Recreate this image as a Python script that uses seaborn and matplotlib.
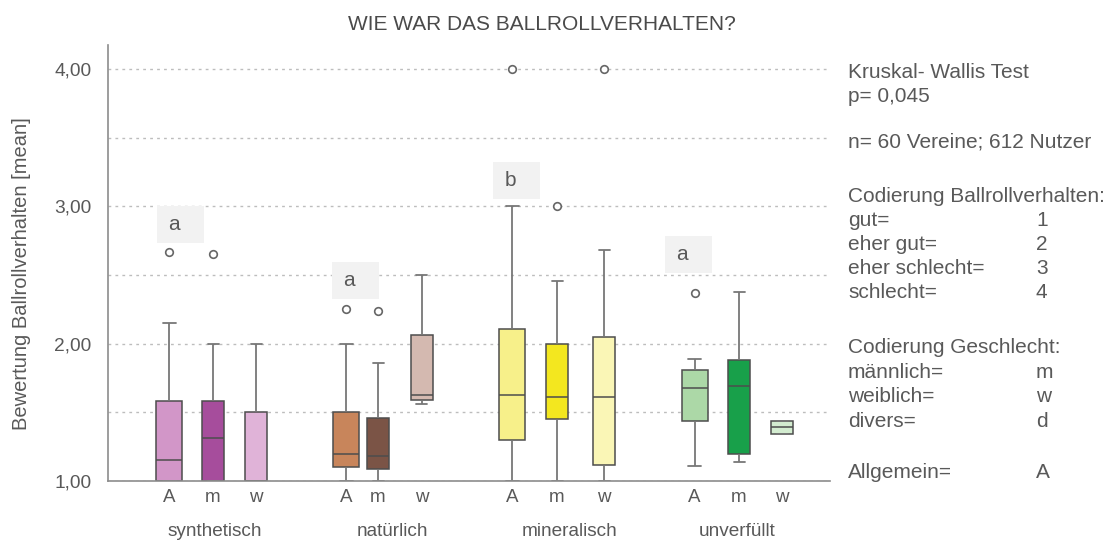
import numpy as np
import pandas as pd
import matplotlib.pyplot as plt
import matplotlib.patches as patches
from matplotlib.ticker import MultipleLocator, FixedLocator, FuncFormatter
import seaborn as sns

gruppen = ['synthetisch', 'natürlich', 'mineralisch', 'unverfüllt']
kennung = ['A', 'm', 'w']

# Kennwerte je Box (Reihenfolge: synthetisch A/m/w, natürlich A/m/w, ...)
unten = [1.00, 1.00, 1.00, 1.00, 1.00, 1.56, 1.00, 1.00, 1.00, 1.11, 1.14, 1.34]
q1 = [1.00, 1.00, 1.00, 1.10, 1.09, 1.59, 1.30, 1.45, 1.12, 1.44, 1.20, 1.34]
median = [1.15, 1.31, 1.00, 1.20, 1.18, 1.63, 1.63, 1.61, 1.61, 1.68, 1.69, 1.39]
q3 = [1.58, 1.58, 1.50, 1.50, 1.46, 2.06, 2.11, 2.00, 2.05, 1.81, 1.88, 1.44]
oben = [2.15, 2.00, 2.00, 2.00, 1.86, 2.50, 3.00, 2.46, 2.68, 1.89, 2.38, 1.44]

ausreisser_box = [0, 1, 3, 4, 6, 7, 8, 9]
ausreisser_wert = [2.67, 2.65, 2.25, 2.24, 4.00, 3.00, 4.00, 2.37]

buchstaben = ['a', 'a', 'b', 'a']
buchstaben_y = [2.87, 2.46, 3.19, 2.65]

farben = ['#d296c8', '#a64d9c', '#e0b3d8',
          '#c8855b', '#7b5446', '#d4b9b0',
          '#f7f08a', '#f3e71f', '#faf6b6',
          '#acd8a7', '#18a04a', '#d3ecd0']

# Layout: x-Positionen (1 Einheit = 1 Pixel)
box_x = [169, 213, 256, 346, 378, 421.5, 512, 557, 604, 694.5, 739, 782]
gruppe_x = [215, 392, 570, 737]
buchstabe_x = [180, 355, 516, 688]

info_links = ['Kruskal- Wallis Test', 'p= 0,045', 'n= 60 Vereine; 612 Nutzer',
              'Codierung Ballrollverhalten:', 'gut=', 'eher gut=', 'eher schlecht=', 'schlecht=',
              'Codierung Geschlecht:', 'männlich=', 'weiblich=', 'divers=', 'Allgemein=']
info_rechts = ['', '', '', '', '1', '2', '3', '4', '', 'm', 'w', 'd', 'A']
info_y = [77.7, 101.7, 147.3, 201.7, 225.7, 249.5, 273.7, 297.7, 352.7, 377.5, 402.3, 427, 478]

ids = [f'{g}-{k}' for g in gruppen for k in kennung]
rows = []
for i, b in enumerate(ids):
    for v in (unten[i], q1[i], median[i], q3[i], oben[i]):
        rows.append({'x': box_x[i], 'box': b, 'wert': v, 'kennung': kennung[i % 3]})
df = pd.DataFrame(rows)
palette = dict(zip(ids, farben))

sns.set_style('white')
plt.rcParams['font.family'] = ['Liberation Sans', 'DejaVu Sans']
textfarbe = '#595959'

fig = plt.figure(figsize=(11.12, 5.41), dpi=100)
ax = fig.add_axes([108 / 1112, 60 / 541, 722 / 1112, 436 / 541])

for maske, px in [(df['kennung'] == 'A', 26), (df['kennung'] != 'A', 22)]:
    teil = df[maske]
    breite = px / np.min(np.diff(np.unique(teil['x'])))
    sns.boxplot(data=teil, x='x', y='wert', hue='box',
                palette={b: palette[b] for b in teil['box'].unique()},
                native_scale=True, orient='x', width=breite, gap=0, whis=(0, 100),
                saturation=1, linecolor='#4d4d4d', linewidth=1.1, legend=False, ax=ax,
                whiskerprops=dict(color='#777777', linewidth=1.3),
                capprops=dict(color='#777777', linewidth=1.3))

sns.scatterplot(x=[box_x[i] for i in ausreisser_box], y=ausreisser_wert, marker='o', s=30,
                color='white', edgecolor='#666666', linewidth=1.2, ax=ax, zorder=4)

ax.set_xlim(108, 830)
ax.set_ylim(1.0, 1 + 436 / 137.3)
ax.yaxis.set_major_locator(FixedLocator([1, 2, 3, 4]))
ax.yaxis.set_minor_locator(MultipleLocator(0.5))
ax.yaxis.set_major_formatter(FuncFormatter(lambda v, p: f'{v:.2f}'.replace('.', ',')))
ax.grid(axis='y', which='both', color='#bdbdbd', linestyle=(0, (2, 3)), linewidth=1)
ax.set_axisbelow(True)
ax.set_xticks(box_x)
ax.set_xticklabels(kennung * len(gruppen))
ax.tick_params(axis='x', length=0, pad=6, labelsize=13.5, labelcolor=textfarbe)
ax.tick_params(axis='y', which='both', length=0, pad=12, labelsize=13.8, labelcolor=textfarbe)
ax.set_xlabel('')
ax.set_ylabel('Bewertung Ballrollverhalten [mean]', fontsize=14.5, color=textfarbe)
ax.yaxis.set_label_coords(-0.107, 0.476)
for s in ['top', 'right']:
    ax.spines[s].set_visible(False)
for s in ['left', 'bottom']:
    ax.spines[s].set_color('#8c8c8c')
    ax.spines[s].set_linewidth(1.2)

# Signifikanz-Buchstaben
for bx, by, t in zip(buchstabe_x, buchstaben_y, buchstaben):
    h = 37 / 137.3
    ax.add_patch(patches.Rectangle((bx - 23.5, by - h / 2), 47, h, facecolor='#f2f2f2',
                                   edgecolor='none', zorder=1))
    ax.text(bx - 6, by, t, ha='center', va='center', fontsize=15, color=textfarbe, zorder=2)

for gx, g in zip(gruppe_x, gruppen):
    fig.text(gx / 1112, 1 - 536 / 541, g, ha='center', va='baseline', fontsize=13.7, color=textfarbe)

fig.text(542 / 1112, 1 - 30 / 541, 'WIE WAR DAS BALLROLLVERHALTEN?', ha='center', va='baseline',
         fontsize=15, color='#4a4a4a')

for links, rechts, yy in zip(info_links, info_rechts, info_y):
    fig.text(848 / 1112, 1 - yy / 541, links, ha='left', va='baseline', fontsize=15, color=textfarbe)
    if rechts:
        fig.text(1036 / 1112, 1 - yy / 541, rechts, ha='left', va='baseline', fontsize=15, color=textfarbe)

plt.savefig('out.png', dpi=100)
